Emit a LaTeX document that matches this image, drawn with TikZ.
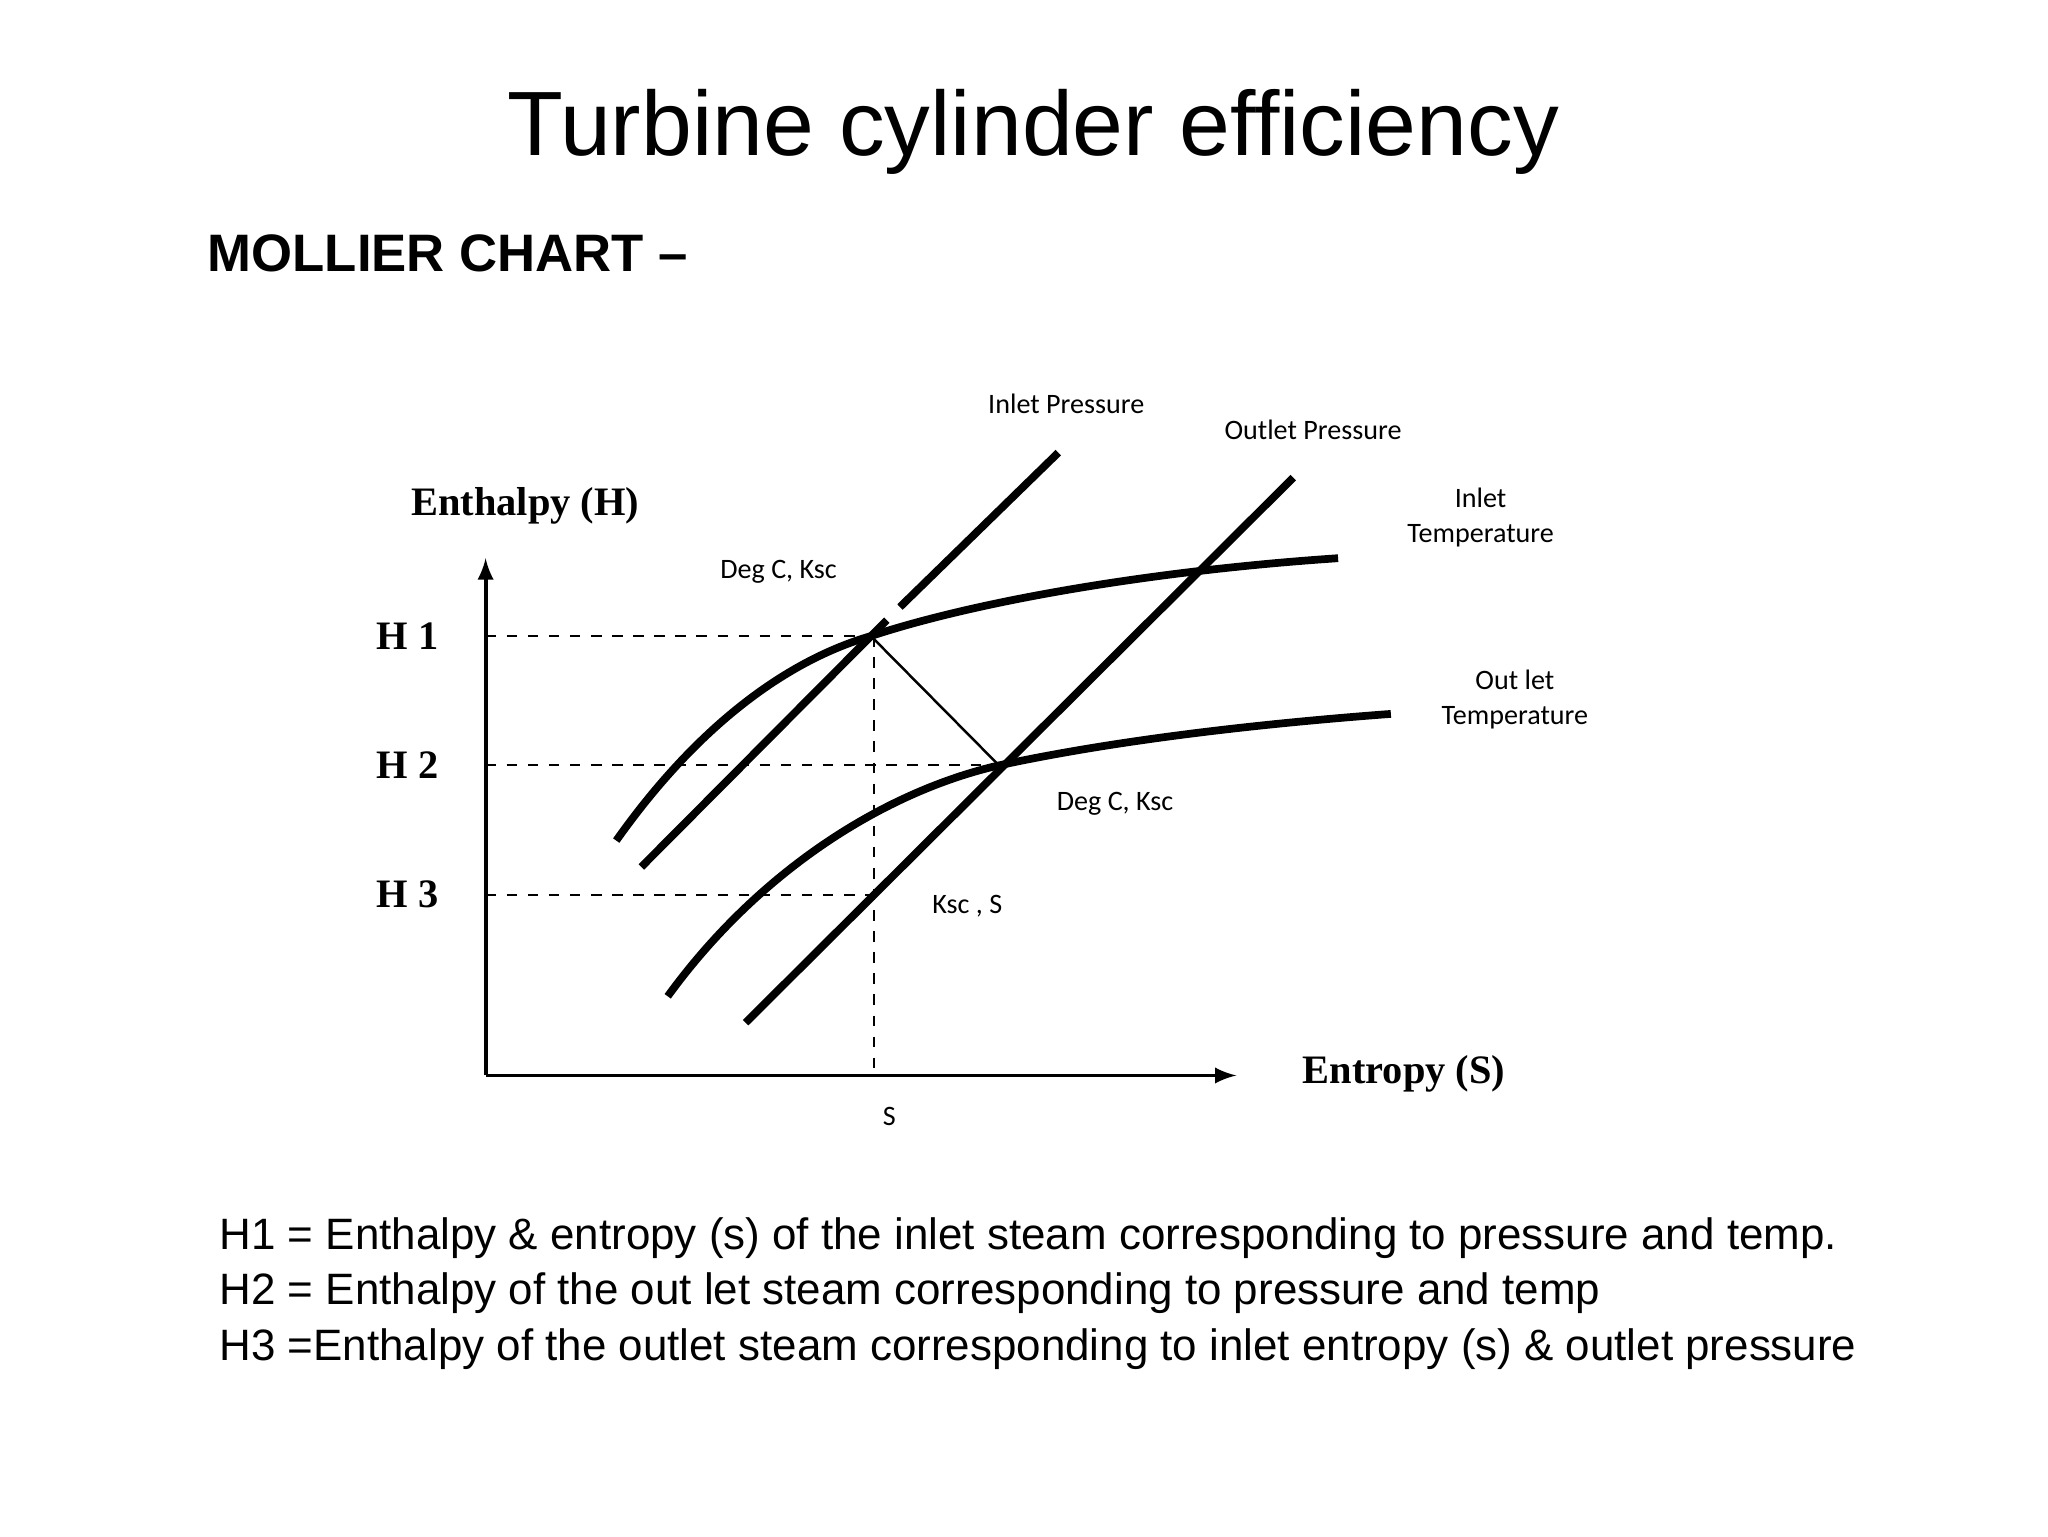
\documentclass[tikz,border=0pt]{standalone}
\usepackage{fontspec}
\setmainfont{Liberation Serif}
\setsansfont{Liberation Sans}
\newfontfamily\carlitofont{Carlito}
\begin{document}
\begin{tikzpicture}[x=0.013196cm,y=-0.013196cm,
  thick curve/.style={line width=2.2pt},
  lbl/.style={font=\carlitofont\fontsize{8}{10}\selectfont,align=center},
  axlbl/.style={font=\bfseries\fontsize{11.5}{13}\selectfont},
  body/.style={font=\sffamily\fontsize{12.5}{15}\selectfont,anchor=west}]
\useasboundingbox (0,0) rectangle (1552,1164);
\node[font=\sffamily\fontsize{26}{30}\selectfont] (title) at (783,100) {Turbine cylinder efficiency};
\node[font=\sffamily\bfseries\fontsize{15}{18}\selectfont,anchor=west] (sub) at (148,192) {MOLLIER CHART --};
% axes
\coordinate (O) at (368,815);
\draw[line width=1.1pt,-latex] (O) -- (368,423);
\draw[line width=1.1pt,-latex] (O) -- (937,815);
\node[axlbl] (ylab) at (398,383) {Enthalpy (H)};
\node[axlbl] (xlab) at (1064,814) {Entropy (S)};
\node[axlbl] (h1) at (309,482) {H 1};
\node[axlbl] (h2) at (309,580) {H 2};
\node[axlbl] (h3) at (309,678) {H 3};
\coordinate (P1) at (660,482);
\coordinate (P2) at (757,580);
\coordinate (P3) at (660,678);
\draw[dashed,line width=0.6pt] (368,482) -- (P1);
\draw[dashed,line width=0.6pt] (368,580) -- (P2);
\draw[dashed,line width=0.6pt] (368,678) -- (P3);
\draw[dashed,line width=0.6pt] (662,482) -- (662,815);
\node[lbl] (s) at (674,846) {S};
% pressure lines
\draw[thick curve] (486,657) -- (672,470);
\draw[thick curve] (682,460) -- (802,343);
\draw[thick curve] (565,775) -- (980,362);
% temperature curves
\draw[thick curve] (467,637) .. controls (530,548) and (598,500) .. (P1) .. controls (745,454) and (880,432) .. (1014,423);
\draw[thick curve] (506,755) .. controls (575,660) and (670,600) .. (P2) .. controls (850,560) and (960,548) .. (1054,541);
\draw[line width=0.7pt] (P1) -- (P2);
% labels
\node[lbl] (ip) at (808,306) {Inlet Pressure};
\node[lbl] (op) at (995,326) {Outlet Pressure};
\node[lbl] (it) at (1122,392) {Inlet\\Temperature};
\node[lbl] (ot) at (1148,530) {Out let\\Temperature};
\node[lbl] (d1) at (590,433) {Deg C, Ksc};
\node[lbl] (d2) at (845,609) {Deg C, Ksc};
\node[lbl] (ks) at (733,687) {Ksc , S};
% bottom text
\node[body] (l1) at (157,938) {H1 = Enthalpy \& entropy (s) of the inlet steam corresponding to pressure and temp.};
\node[body] (l2) at (157,980) {H2 = Enthalpy of the out let steam corresponding to pressure and temp};
\node[body] (l3) at (157,1022) {H3 =Enthalpy of the outlet steam corresponding to inlet entropy (s) \& outlet pressure};
\end{tikzpicture}
\end{document}
